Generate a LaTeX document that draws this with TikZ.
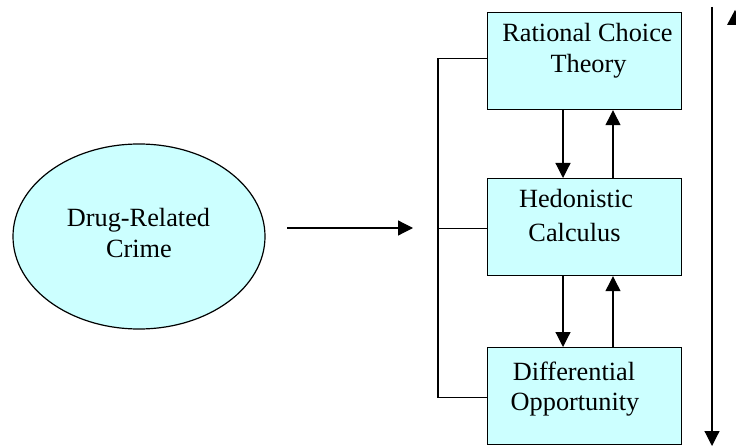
\documentclass[tikz,border=0pt]{standalone}
\usepackage{fontspec}
\setmainfont{Liberation Serif}
\usetikzlibrary{shapes.geometric,arrows.meta}
\definecolor{boxfill}{HTML}{CCFFFF}
\tikzset{
  boxshape/.style={draw=black,fill=boxfill,line width=1.2pt,minimum width=194pt,minimum height=97pt,inner sep=0pt,anchor=north west},
  ovalshape/.style={ellipse,draw=black,fill=boxfill,line width=1.2pt,minimum width=252pt,minimum height=185pt,inner sep=0pt},
  txt/.style={anchor=base,inner sep=0pt,font=\fontsize{26.3}{31.5}\selectfont},
  conn/.style={line width=1.2pt},
  arr/.style={line width=1.2pt,-{Triangle[length=15pt,width=15pt]}},
}
\begin{document}
\begin{tikzpicture}[x=1pt,y=-1pt]
\useasboundingbox (0,0) rectangle (736,446);
% shapes
\node[ovalshape] (drc) at (139,236.5) {};
\node[boxshape] (rct) at (487,12) {};
\node[boxshape] (hed) at (487,178) {};
\node[boxshape] (dop) at (487,347) {};
% texts
\node[txt] (t1) at (138.5,227) {Drug-Related};
\node[txt] (t2) at (139,258) {Crime};
\node[txt] (t3) at (587.5,42) {Rational Choice};
\node[txt] (t4) at (588.5,73) {Theory};
\node[txt] (t5) at (576,208) {Hedonistic};
\node[txt] (t6) at (574.5,242) {Calculus};
\node[txt] (t7) at (574,380) {Differential};
\node[txt] (t8) at (575,410) {Opportunity};
% arrow from oval
\coordinate (ha1) at (287,228);
\coordinate (ha2) at (413,228);
\draw[arr] (ha1) -- (ha2);
% bracket
\coordinate (bx) at (438,0);
\draw[conn] ([yshift=2.5pt]rct.west) -- ([yshift=2.5pt]rct.west -| bx) -- ([yshift=-1pt]dop.west -| bx) -- ([yshift=-1pt]dop.west);
\draw[conn] ([yshift=-1.5pt]hed.west) -- ([yshift=-1.5pt]hed.west -| bx);
% arrows between boxes
\draw[arr] ([xshift=76pt]rct.south west) -- ([xshift=76pt]hed.north west);
\draw[arr] ([xshift=126pt]hed.north west) -- ([xshift=126pt]rct.south west);
\draw[arr] ([xshift=76pt]hed.south west) -- ([xshift=76pt]dop.north west);
\draw[arr] ([xshift=126pt]dop.north west) -- ([xshift=126pt]hed.south west);
% right vertical arrow
\coordinate (vt) at (712,7);
\coordinate (vb) at (712,446);
\draw[arr] (vt) -- (vb);
\fill (727,25) -- (735,10) -- (736,12) -- (736,25) -- cycle;
\end{tikzpicture}
\end{document}
